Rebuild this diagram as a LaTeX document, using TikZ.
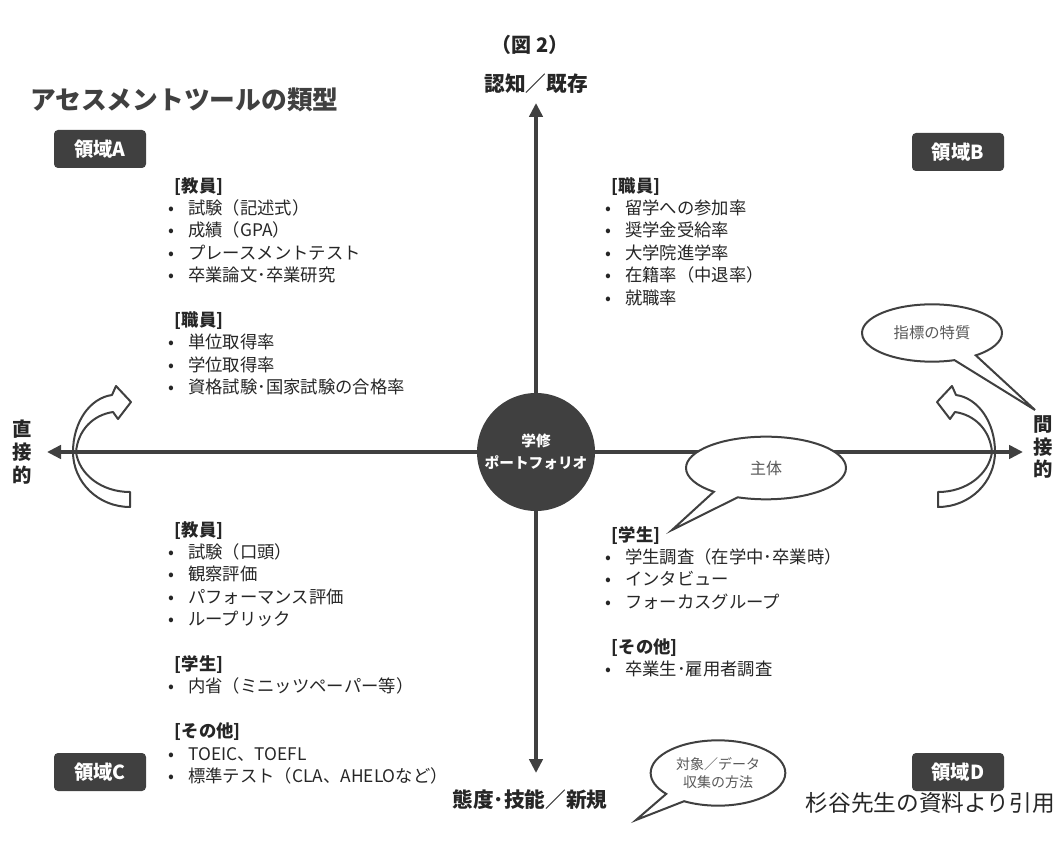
\documentclass[tikz,border=0pt]{standalone}
\usepackage{fontspec}
\setmainfont{Noto Sans CJK JP}
\usetikzlibrary{arrows.meta,shapes.callouts,shapes.geometric}
\definecolor{dk}{HTML}{404040}
\definecolor{tx}{HTML}{262626}
\definecolor{gy}{HTML}{595959}
\newcommand\lsitem[1]{\makebox[15pt][l]{•}#1}
\newcommand\lshead[1]{\hspace*{5pt}\textbf{#1}}
\newcommand\ctcurvedarrow{%
  \filldraw[arrowline] (0,0) .. controls (0,-30) and (17,-54) .. (39,-57) -- (43,-66) -- (58,-50) -- (45,-33) -- (40,-40) .. controls (20,-37) and (5,-22) .. (3,0) -- cycle;
  \filldraw[arrowline] (0,0) .. controls (0,30) and (25,55) .. (57,55) -- (57,40) .. controls (28,40) and (6,22) .. (3,0) -- cycle;}
\begin{document}
\begin{tikzpicture}[x=0.75pt,y=-0.75pt,
  regionbox/.style={fill=dk, rounded corners=3pt, text=white, font=\bfseries\fontsize{14.5}{16}\selectfont, minimum width=69pt, minimum height=28.5pt, inner sep=0pt},
  axis/.style={draw=dk, line width=3pt, {Triangle[length=10.5pt,width=10pt]}-{Triangle[length=10.5pt,width=10pt]}},
  listblk/.style={anchor=north west, align=left, inner sep=0pt, text=tx, font=\fontsize{13}{16.8}\selectfont},
  bubble/.style={ellipse callout, draw=dk, line width=1.5pt, fill=white, text=gy, align=center, inner sep=0pt, callout pointer arc=20},
  arrowline/.style={draw=dk, fill=white, line width=1.5pt, line join=round},
  axlabel/.style={text=tx, font=\bfseries\fontsize{15.5}{18}\selectfont, inner sep=0pt},
  vlabel/.style={text=tx, font=\bfseries\fontsize{14.5}{17}\selectfont, align=center, inner sep=0pt}]
\useasboundingbox (0,0) rectangle (1056,841);
\fill[white] (0,0) rectangle (1056,841);

% curved arrows
\begin{scope}[shift={(73,452)}]
  \ctcurvedarrow
\end{scope}
\begin{scope}[shift={(995,452)}, xscale=-1]
  \ctcurvedarrow
\end{scope}

% axes
\coordinate (vt) at (536,103);
\coordinate (vb) at (536,773);
\coordinate (hl) at (47,452);
\coordinate (hr) at (1023,452);
\draw[axis] (vb) -- (vt);
\draw[axis] (hl) -- (hr);

% centre
\node[circle, fill=dk, minimum size=88.5pt, text=white, font=\bfseries\fontsize{11}{16.5}\selectfont, align=center, inner sep=0pt] (pf) at (536,452) {学修\\ポートフォリオ};

% titles
\node[anchor=west, text=dk, font=\bfseries\fontsize{19.3}{22}\selectfont, inner sep=0pt] (ti) at (30,100) {アセスメントツールの類型};
\node[text=tx, font=\bfseries\fontsize{15}{18}\selectfont, inner sep=0pt] (fg) at (530,45) {（図 2）};
\node[anchor=east, text=tx, font=\fontsize{17}{20}\selectfont, inner sep=0pt] (src) at (1055,803) {杉谷先生の資料より引用};

% axis labels
\node[axlabel] (lt) at (536,84) {認知／既存};
\node[axlabel] (lb) at (530,800) {態度･技能／新規};
\node[vlabel] (ld) at (22,452) {直\\接\\的};
\node[vlabel] (li) at (1043,447) {間\\接\\的};

% region boxes
\node[regionbox] (ra) at (100,149) {領域A};
\node[regionbox] (rb) at (958,152) {領域B};
\node[regionbox] (rc) at (100,772) {領域C};
\node[regionbox] (rd) at (958,772) {領域D};

% lists
\node[listblk] (tl) at (168,177) {\lshead{[教員]}\\ \lsitem{試験（記述式）}\\ \lsitem{成績（GPA）}\\ \lsitem{プレースメントテスト}\\ \lsitem{卒業論文･卒業研究}\\[16.8pt] \lshead{[職員]}\\ \lsitem{単位取得率}\\ \lsitem{学位取得率}\\ \lsitem{資格試験･国家試験の合格率}};
\node[listblk] (tr) at (605,177) {\lshead{[職員]}\\ \lsitem{留学への参加率}\\ \lsitem{奨学金受給率}\\ \lsitem{大学院進学率}\\ \lsitem{在籍率（中退率）}\\ \lsitem{就職率}};
\node[listblk] (bl) at (168,521) {\lshead{[教員]}\\ \lsitem{試験（口頭）}\\ \lsitem{観察評価}\\ \lsitem{パフォーマンス評価}\\ \lsitem{ループリック}\\[16.8pt] \lshead{[学生]}\\ \lsitem{内省（ミニッツペーパー等）}\\[16.8pt] \lshead{[その他]}\\ \lsitem{TOEIC、TOEFL}\\ \lsitem{標準テスト（CLA、AHELOなど）}};
\node[listblk] (br) at (605,526) {\lshead{[学生]}\\ \lsitem{学生調査（在学中･卒業時）}\\ \lsitem{インタビュー}\\ \lsitem{フォーカスグループ}\\[16.8pt] \lshead{[その他]}\\ \lsitem{卒業生･雇用者調査}};

% callouts
\coordinate (tipq) at (1035,410);
\coordinate (tips) at (672,530);
\coordinate (tipm) at (636,820);
\node[bubble, font=\fontsize{11.5}{14}\selectfont, minimum width=105pt, minimum height=43pt, callout absolute pointer=(tipq)] (bq) at (932,333) {指標の特質};
\node[bubble, font=\fontsize{12}{14}\selectfont, minimum width=120pt, minimum height=47pt, callout absolute pointer=(tips)] (bs) at (766,468) {主体};
\node[bubble, font=\fontsize{10.5}{14}\selectfont, minimum width=101pt, minimum height=49pt, callout absolute pointer=(tipm)] (bm) at (718,773) {対象／データ\\収集の方法};
\end{tikzpicture}
\end{document}
